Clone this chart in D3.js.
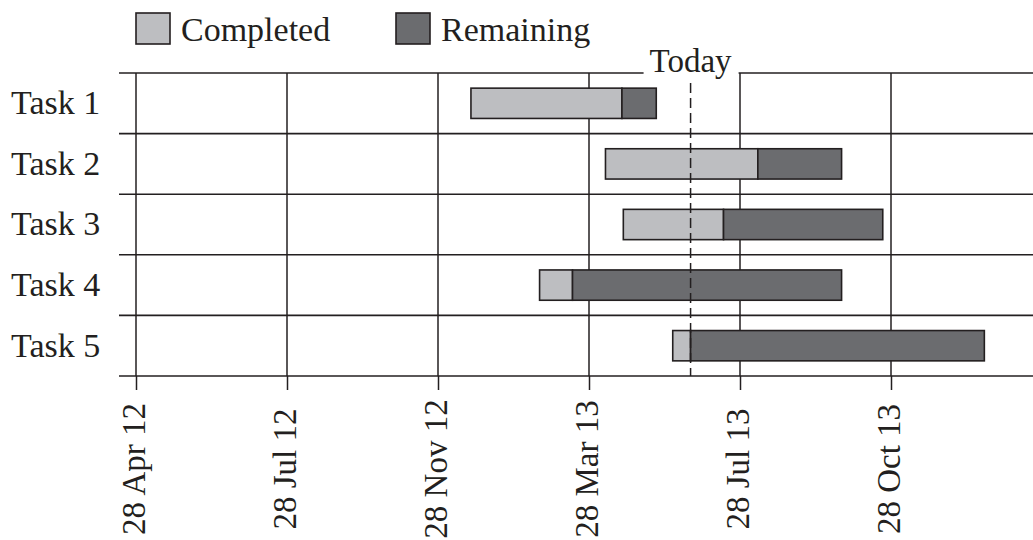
<!DOCTYPE html>
<html>
<head>
<meta charset="utf-8">
<script src="https://cdn.jsdelivr.net/npm/d3@7"></script>
<style>
  html, body { margin: 0; padding: 0; background: #fff; }
  svg text { font-family: "Liberation Serif", "Times New Roman", serif; fill: #231f20; }
</style>
</head>
<body>
<svg id="chart"></svg>
<script>
// --------------------
// Data (days counted from 28 Apr 12)
// --------------------
const tasks = ["Task 1", "Task 2", "Task 3", "Task 4", "Task 5"];
const startDays = [244, 342, 355, 294, 391];
const splitDays = [354, 453, 428, 318, 404];   // end of "Completed"
const endDays = [379, 514, 544, 514, 618];
const todayDay = 404;

const tickDays = [0, 110, 220, 330, 440, 550];
const tickLabels = ["28 Apr 12", "28 Jul 12", "28 Nov 12", "28 Mar 13", "28 Jul 13", "28 Oct 13"];

const legendLabels = ["Completed", "Remaining"];
const colors = ["#bdbec1", "#6b6c6f"];

// --------------------
// Basic setup
// --------------------
const width = 1033;
const height = 540;
const ink = "#231f20";

const svg = d3.select("#chart")
  .attr("width", width)
  .attr("height", height);

const x = d3.scaleLinear()
  .domain([0, 550])
  .range([136, 891]);

const y = d3.scaleBand()
  .domain(tasks)
  .range([73, 376]);

const barH = y.bandwidth() * 0.5;

// --------------------
// Grid: vertical lines + row separators
// --------------------
svg.append("g")
  .selectAll("line")
  .data(tickDays)
  .join("line")
    .attr("x1", d => x(d)).attr("x2", d => x(d))
    .attr("y1", y.range()[0]).attr("y2", y.range()[1])
    .attr("stroke", ink)
    .attr("stroke-width", 1.5);

const seps = tasks.map(t => y(t)).concat([y.range()[1]]);
svg.append("g")
  .selectAll("line")
  .data(seps)
  .join("line")
    .attr("x1", 119).attr("x2", width)
    .attr("y1", d => d).attr("y2", d => d)
    .attr("stroke", ink)
    .attr("stroke-width", 1.6);

// x axis ticks + labels (rotated, centred)
const xAxis = svg.append("g")
  .attr("transform", `translate(0,${y.range()[1]})`)
  .call(d3.axisBottom(x)
    .tickValues(tickDays)
    .tickFormat((d, i) => tickLabels[i])
    .tickSize(14)
    .tickSizeOuter(0));
xAxis.select(".domain").remove();
xAxis.selectAll(".tick line").attr("stroke", ink).attr("stroke-width", 1.5);
xAxis.selectAll(".tick text")
  .attr("y", 0).attr("dy", 0)
  .attr("transform", "translate(8,93) rotate(-90)")
  .attr("text-anchor", "middle")
  .style("font-size", "33px")
  .style("font-family", "Liberation Serif, serif")
  .attr("fill", ink);

// task labels
svg.append("g")
  .selectAll("text")
  .data(tasks)
  .join("text")
    .attr("x", 11)
    .attr("y", d => y(d) + y.bandwidth() / 2)
    .attr("dy", "0.32em")
    .style("font-size", "34px")
    .text(d => d);

// --------------------
// Bars
// --------------------
const bars = svg.append("g");
tasks.forEach((t, i) => {
  const segs = [
    [startDays[i], splitDays[i], colors[0]],
    [splitDays[i], endDays[i], colors[1]]
  ];
  bars.selectAll(null)
    .data(segs)
    .join("rect")
      .attr("x", d => x(d[0]))
      .attr("width", d => x(d[1]) - x(d[0]))
      .attr("y", y(t) + (y.bandwidth() - barH) / 2)
      .attr("height", barH)
      .attr("fill", d => d[2])
      .attr("stroke", ink)
      .attr("stroke-width", 1.6);
});

// --------------------
// Today marker
// --------------------
svg.append("line")
  .attr("x1", x(todayDay)).attr("x2", x(todayDay))
  .attr("y1", 83).attr("y2", y.range()[1])
  .attr("stroke", ink)
  .attr("stroke-width", 1.5)
  .attr("stroke-dasharray", "10,5");

svg.append("rect")
  .attr("x", x(todayDay) - 47).attr("y", 50)
  .attr("width", 95).attr("height", 26)
  .attr("fill", "#fff");

svg.append("text")
  .attr("x", x(todayDay))
  .attr("y", 72)
  .attr("text-anchor", "middle")
  .style("font-size", "33px")
  .text("Today");

// --------------------
// Legend
// --------------------
const legendX = [136, 396];
const legend = svg.append("g")
  .selectAll("g")
  .data(legendLabels)
  .join("g")
    .attr("transform", (d, i) => `translate(${legendX[i]},13)`);

legend.append("rect")
  .attr("width", 34).attr("height", 31)
  .attr("fill", (d, i) => colors[i])
  .attr("stroke", ink)
  .attr("stroke-width", 1.6);

legend.append("text")
  .attr("x", 45)
  .attr("y", 28)
  .style("font-size", "34px")
  .text(d => d);
</script>
</body>
</html>
